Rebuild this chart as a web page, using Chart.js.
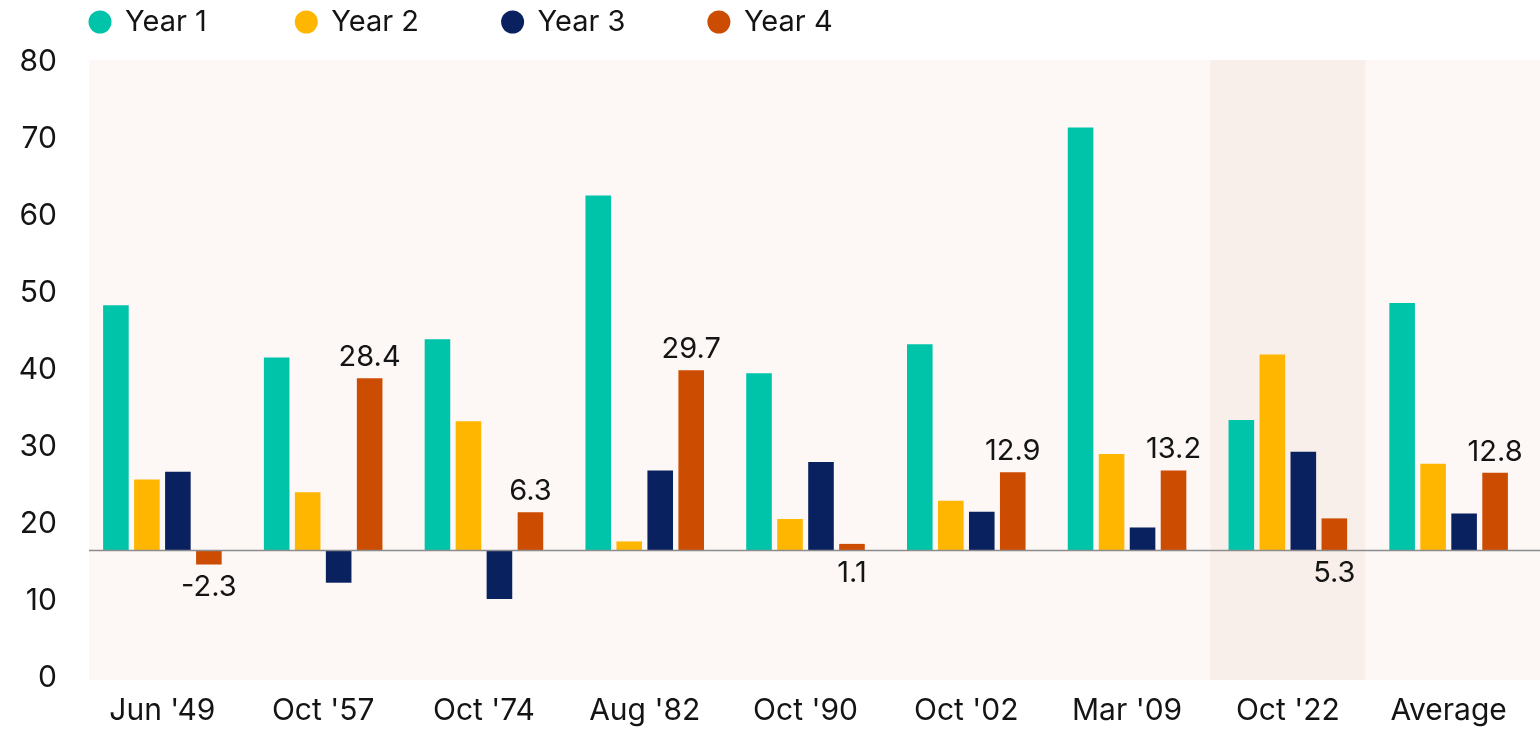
<!DOCTYPE html>
<html>
<head>
<meta charset="utf-8">
<script src="https://cdn.jsdelivr.net/npm/chart.js@4.4.1/dist/chart.umd.min.js"></script>
<style>
  html, body { margin: 0; padding: 0; background: #fff; }
  #wrap { width: 1540px; height: 729px; position: relative; }
</style>
</head>
<body>
<div id="wrap"><canvas id="myChart"></canvas></div>
<script>
const categories = ["Jun '49", "Oct '57", "Oct '74", "Aug '82", "Oct '90", "Oct '02", "Mar '09", "Oct '22", "Average"];
const year1 = [40.4, 31.8, 34.8, 58.5, 29.2, 34.0, 69.7, 21.5, 40.8];
const year2 = [11.7, 9.6, 21.3, 1.5, 5.2, 8.2, 15.9, 32.3, 14.3];
const year3 = [13.0, -5.3, -8.0, 13.2, 14.6, 6.4, 3.8, 16.3, 6.1];
const year4 = [-2.3, 28.4, 6.3, 29.7, 1.1, 12.9, 13.2, 5.3, 12.8];
const tickLabels = ['0', '10', '20', '30', '40', '50', '60', '70', '80'];
const highlight = "Oct '22";

// where the Year 4 value sits: under the bar or over it
const labelBelow = [true, false, false, false, true, false, false, true, false];

const FONT = 'Inter, Lato, sans-serif';
const INK = '#141414';

const backdrop = {
    id: 'backdrop',
    beforeDatasetsDraw(chart) {
        const {ctx, chartArea: a, scales: {x}} = chart;
        const left = a.left + 7;
        ctx.save();
        ctx.fillStyle = '#FDF7F6';
        ctx.fillRect(left, a.top - 2, chart.width - left, a.bottom - a.top + 4);
        const w = x.getPixelForValue(1) - x.getPixelForValue(0);
        const cx = x.getPixelForValue(categories.indexOf(highlight));
        ctx.fillStyle = '#F8EEEA';
        ctx.fillRect(cx - w * 0.482, a.top - 2, w * 0.964, a.bottom - a.top + 4);
        ctx.restore();
    }
};

const extras = {
    id: 'extras',
    afterDatasetsDraw(chart) {
        const {ctx, chartArea: a} = chart;
        const y0 = chart.scales.y.getPixelForValue(0);
        ctx.save();
        ctx.strokeStyle = '#8C8C8C';
        ctx.lineWidth = 1.5;
        ctx.beginPath();
        ctx.moveTo(a.left + 7, y0);
        ctx.lineTo(chart.width, y0);
        ctx.stroke();

        ctx.font = '29px ' + FONT;
        ctx.fillStyle = INK;
        ctx.textAlign = 'center';
        ctx.textBaseline = 'middle';
        chart.getDatasetMeta(3).data.forEach((bar, i) => {
            const top = Math.min(bar.y, bar.base);
            const bottom = Math.max(bar.y, bar.base);
            const y = labelBelow[i] ? bottom + 23 : top - 21;
            ctx.fillText(year4[i].toFixed(1), bar.x, y);
        });

        // legend row
        ctx.textAlign = 'left';
        chart.data.datasets.forEach((ds, i) => {
            const x = 88 + i * 206.3;
            ctx.fillStyle = ds.backgroundColor;
            ctx.beginPath();
            ctx.arc(x + 12, 22, 11.5, 0, Math.PI * 2);
            ctx.fill();
            ctx.fillStyle = INK;
            ctx.fillText(ds.label, x + 37, 22);
        });
        ctx.restore();
    }
};

const ctx = document.getElementById('myChart');
const myChart = new Chart(ctx, {
    type: 'bar',
    data: {
        labels: categories,
        datasets: [
            {label: 'Year 1', data: year1, backgroundColor: '#00C4AA'},
            {label: 'Year 2', data: year2, backgroundColor: '#FFB600'},
            {label: 'Year 3', data: year3, backgroundColor: '#0A2160'},
            {label: 'Year 4', data: year4, backgroundColor: '#CC4C02'}
        ]
    },
    options: {
        responsive: true,
        maintainAspectRatio: false,
        animation: false,
        categoryPercentage: 0.771,
        barPercentage: 0.826,
        layout: {padding: {top: 62, right: 11, bottom: 0, left: 0}},
        plugins: {
            legend: {display: false},
            tooltip: {enabled: false}
        },
        scales: {
            x: {
                grid: {display: false, drawTicks: false},
                border: {display: false},
                ticks: {color: INK, padding: 15, font: {family: FONT, size: 30}},
                afterFit: s => { s.height = 51; }
            },
            y: {
                display: false,
                min: -21,
                max: 80.5
            },
            yTicks: {
                position: 'left',
                min: 0,
                max: 80,
                grid: {display: false, drawTicks: false},
                border: {display: false},
                ticks: {
                    stepSize: 10,
                    padding: 25,
                    color: INK,
                    font: {family: FONT, size: 30},
                    callback: (v, i) => tickLabels[i]
                },
                afterFit: s => { s.width = 82; }
            }
        }
    },
    plugins: [backdrop, extras]
});
</script>
</body>
</html>
